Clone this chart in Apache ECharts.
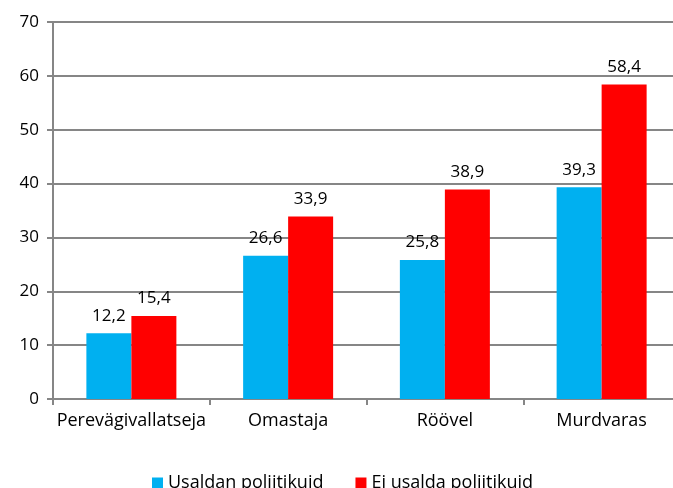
<!DOCTYPE html>
<html><head><meta charset="utf-8">
<script src="https://cdn.jsdelivr.net/npm/echarts@6/dist/echarts.min.js"></script>
<style>html,body{margin:0;padding:0;background:#fff}#c{width:673px;height:488px}</style>
</head><body><div id="c"></div>
<script>
var categories = ['Perevägivallatseja', 'Omastaja', 'Röövel', 'Murdvaras'];
var seriesNames = ['Usaldan poliitikuid', 'Ei usalda poliitikuid'];
var usaldan = [12.2, 26.6, 25.8, 39.3];
var eiUsalda = [15.4, 33.9, 38.9, 58.4];
var yTicks = [0, 10, 20, 30, 40, 50, 60, 70];

var FONT = 'Open Sans';
var chart = echarts.init(document.getElementById('c'));
function lbl(p){ return String(p.value).replace('.', ','); }
chart.setOption({
  animation: false,
  textStyle: {fontFamily: FONT},
  grid: {left: 53, width: 627, top: 22, bottom: 89, containLabel: false, outerBoundsMode: 'none'},
  legend: {
    bottom: -9, left: 147, itemWidth: 11, itemHeight: 11, itemGap: 32,
    icon: 'rect',
    textStyle: {fontFamily: FONT, fontSize: 18, color: '#000'},
    data: seriesNames
  },
  xAxis: {
    type: 'category', data: categories,
    axisLine: {lineStyle: {color: '#868686', width: 2}},
    axisTick: {show: true, length: 6, lineStyle: {color: '#868686', width: 2}},
    axisLabel: {color: '#000', fontSize: 18, margin: 13, interval: 0, fontFamily: FONT}
  },
  yAxis: {
    type: 'value', min: yTicks[0], max: yTicks[yTicks.length-1], interval: 10,
    axisLine: {show: true, lineStyle: {color: '#868686', width: 2}},
    axisTick: {show: true, length: 6, lineStyle: {color: '#868686', width: 2}},
    splitLine: {lineStyle: {color: '#868686', width: 2}},
    axisLabel: {color: '#000', fontSize: 17, margin: 14, fontFamily: FONT}
  },
  series: [
    {name: seriesNames[0], type: 'bar', data: usaldan, barWidth: 45, barGap: '0%',
     itemStyle: {color: '#00B0F0'},
     label: {show: true, position: 'top', distance: 9, color: '#000', fontSize: 17, fontFamily: FONT, formatter: lbl}},
    {name: seriesNames[1], type: 'bar', data: eiUsalda, barWidth: 45,
     itemStyle: {color: '#FF0000'},
     label: {show: true, position: 'top', distance: 9, color: '#000', fontSize: 17, fontFamily: FONT, formatter: lbl}}
  ]
});
</script></body></html>
